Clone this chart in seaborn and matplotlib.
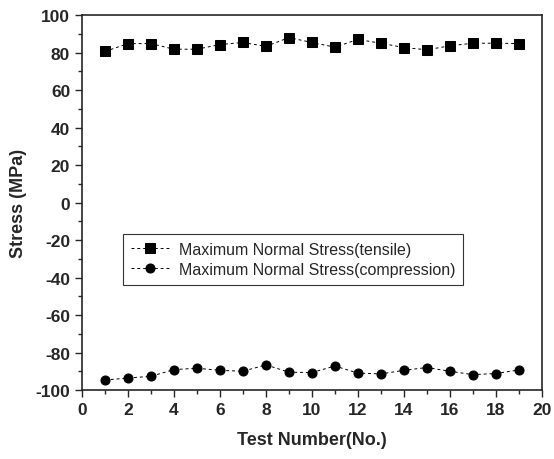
import matplotlib
matplotlib.use("Agg")
import matplotlib.pyplot as plt
import seaborn as sns
import pandas as pd
from matplotlib.ticker import MultipleLocator

test_no = list(range(1, 20))
tensile = [80.6, 84.8, 84.8, 81.8, 81.8, 84.3, 85.4, 83.3, 88.0, 85.4,
           82.9, 87.0, 85.0, 82.7, 81.5, 83.6, 85.0, 85.0, 84.8]
compression = [-94.7, -93.6, -92.7, -89.1, -88.4, -89.5, -90.0, -86.6, -90.5, -90.7,
               -87.2, -91.0, -91.4, -89.5, -88.0, -90.0, -91.8, -91.2, -89.3]
labels = ["Maximum Normal Stress(tensile)", "Maximum Normal Stress(compression)"]

sns.set_style("ticks")
plt.rcParams['font.family'] = ['Liberation Sans', 'DejaVu Sans']
plt.rcParams['axes.unicode_minus'] = False

df = pd.DataFrame({
    'Test': test_no * 2,
    'Stress': tensile + compression,
    'Series': [labels[0]] * len(test_no) + [labels[1]] * len(test_no),
})

fig, ax = plt.subplots(figsize=(5.54, 4.60), dpi=100)
fig.subplots_adjust(left=0.148, right=0.978, top=0.965, bottom=0.15)

sns.lineplot(data=df, x='Test', y='Stress', hue='Series', style='Series',
             palette=['black', 'black'], markers=['s', 'o'], dashes=[(3, 3), (3, 3)],
             markersize=6.5, linewidth=0.7, markeredgecolor='black', ax=ax)

ax.set_xlim(0, 20)
ax.set_ylim(-100, 100)
ax.xaxis.set_major_locator(MultipleLocator(2))
ax.xaxis.set_minor_locator(MultipleLocator(1))
ax.yaxis.set_major_locator(MultipleLocator(20))
ax.yaxis.set_minor_locator(MultipleLocator(10))
ax.tick_params(which='major', direction='out', length=5, width=1, labelsize=12.5)
ax.tick_params(which='minor', direction='out', length=3, width=1)
for lab in ax.get_xticklabels() + ax.get_yticklabels():
    lab.set_fontweight('bold')
for sp in ax.spines.values():
    sp.set_visible(True)
    sp.set_linewidth(1.2)

ax.set_xlabel('Test Number(No.)', fontsize=13, fontweight='bold', labelpad=10)
ax.set_ylabel('Stress (MPa)', fontsize=13, fontweight='bold', labelpad=6)

leg = ax.legend(loc='lower left', bbox_to_anchor=(0.072, 0.26), fontsize=11.5,
                frameon=True, fancybox=False, edgecolor='black', handlelength=2.4,
                borderpad=0.5, labelspacing=0.3, handletextpad=0.6)
leg.get_frame().set_linewidth(0.8)

fig.savefig('out.png', dpi=100)
